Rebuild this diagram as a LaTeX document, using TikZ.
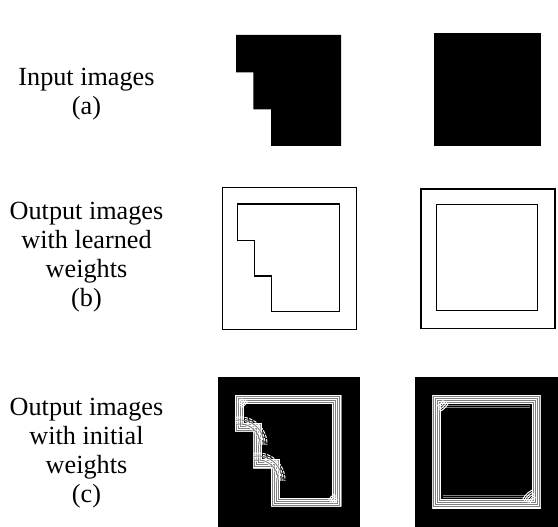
\documentclass[tikz,border=0pt]{standalone}
\usepackage{fontspec}
\setmainfont{Liberation Serif}
\newcommand{\arcpatch}[5]{%
  \foreach \r/\c in {#5}
    \draw[\c,line width=1pt] plot[domain=#3:#4,samples=30,smooth] ({#1+\r*cos(\x)},{#2+\r*sin(\x)});}
\begin{document}
\begin{tikzpicture}[x=1pt,y=-1pt,
  lbl/.style={align=center,inner sep=0pt,anchor=north,font=\fontsize{26.2}{29}\selectfont},
  outl/.style={draw=black,line width=1.1pt},
  bandgray/.style={black!50},
  hatchln/.style={white,line width=1pt,dash pattern=on 3.5pt off 1.2pt},
]
\useasboundingbox[fill=white] (0,0) rectangle (558,527);

% labels
\node[lbl] (la) at (86.5,68) {Input images\\(a)};
\node[lbl] (lb) at (86.5,202) {Output images\\with learned\\weights\\(b)};
\node[lbl] (lc) at (86.5,398) {Output images\\with initial\\weights\\(c)};

% (a) input images
\fill[black] (236,35) -- (341,35) -- (341,146) -- (271,146) -- (271,109.3) -- (253.3,109.3) -- (253.3,72.3) -- (236,72.3) -- cycle;
\fill[black] (434,33.3) rectangle (541,146.3);

% (b) learned weights
\draw[outl] (222.3,187.7) rectangle (356.7,329.3);
\draw[outl] (237.3,204) -- (339.3,204) -- (339.3,311.7) -- (271.3,311.7) -- (271.3,276) -- (254.3,276) -- (254.3,240.3) -- (237.3,240.3) -- cycle;
\draw[outl] (421,189) rectangle (555,328.3);
\draw[outl] (436.3,204.7) rectangle (537.7,310.7);

% (c) initial weights
\fill[black] (218,376.7) rectangle (360.3,527);
\fill[black] (415,376.7) rectangle (558,527);

\begin{scope}
\clip (235,395) -- (341,395) -- (341,506.7) -- (271,506.7) -- (271,468.3) -- (253.3,468.3) -- (253.3,431.7) -- (235,431.7) -- cycle;
\foreach \w/\c in {18/white,16/bandgray,14/white,12/bandgray,10/white,8/bandgray,6/white,4/bandgray,2/white}
  \draw[line width=\w pt,\c,line join=miter] (235,395) -- (341,395) -- (341,506.7) -- (271,506.7) -- (271,468.3) -- (253.3,468.3) -- (253.3,431.7) -- (235,431.7) -- cycle;
\end{scope}

\begin{scope}
\clip (432.3,395) rectangle (540.7,508.3);
\foreach \w/\c in {18/white,16/bandgray,14/white,12/bandgray,10/white,8/bandgray,6/white,4/bandgray,2/white}
  \draw[line width=\w pt,\c,line join=miter] (432.3,395) rectangle (540.7,508.3);
\end{scope}
% extra faint lines on top and bottom of the right band
\foreach \yy in {405.5,407.5}
  \draw[bandgray,line width=0.8pt] (443,\yy) -- (530,\yy);
\foreach \yy in {495.5,497.5}
  \draw[bandgray,line width=0.8pt] (443,\yy) -- (530,\yy);

% hatched arcs at the steps
\foreach \r in {19,21,23,25,27}
  \draw[hatchln] plot[domain=-100:2,samples=30,smooth] ({240+\r*cos(\x)},{444+\r*sin(\x)});
\foreach \r in {20,24}
  \draw[bandgray,line width=0.8pt] plot[domain=-100:2,samples=30,smooth] ({240+\r*cos(\x)},{444+\r*sin(\x)});
\foreach \r in {19,21,23,25,27}
  \draw[hatchln] plot[domain=-100:2,samples=30,smooth] ({258+\r*cos(\x)},{480+\r*sin(\x)});
\foreach \r in {20,24}
  \draw[bandgray,line width=0.8pt] plot[domain=-100:2,samples=30,smooth] ({258+\r*cos(\x)},{480+\r*sin(\x)});

% small hatches at corners
\arcpatch{235}{395}{25}{65}{8/white,10/white,12/white,14/white}
\arcpatch{341}{506.7}{205}{245}{8/white,10/white,12/white,14/white}
\arcpatch{432.3}{395}{25}{65}{12/white,14/white,16/white,18/white}
\arcpatch{540.7}{508.3}{205}{245}{12/white,14/white,16/white,18/white,20/white}
\end{tikzpicture}
\end{document}
